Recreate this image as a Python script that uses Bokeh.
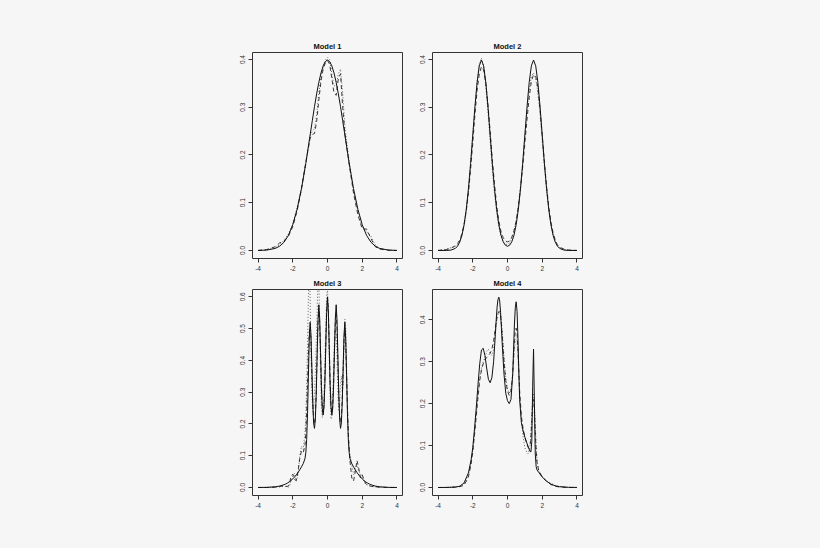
from bokeh.plotting import figure
from bokeh.models import Range1d, FixedTicker
from bokeh.layouts import column, row
from bokeh.embed import file_html
from bokeh.resources import INLINE

BG = "#f6f6f6"
INK = "#333333"
FONT = "Liberation Sans"

TITLES = ["Model 1", "Model 2", "Model 3", "Model 4"]
X_TICKS = [-4, -2, 0, 2, 4]
X_LABELS = ["-4", "-2", "0", "2", "4"]
Y_TICKS_A = [0.0, 0.1, 0.2, 0.3, 0.4]
Y_LABELS_A = ["0.0", "0.1", "0.2", "0.3", "0.4"]
Y_TICKS_C = [0.0, 0.1, 0.2, 0.3, 0.4, 0.5, 0.6]
Y_LABELS_C = ["0.0", "0.1", "0.2", "0.3", "0.4", "0.5", "0.6"]

# ---------------- Model 1 ----------------
x1 = [-4, -3.5, -3, -2.75, -2.5, -2.25, -2, -1.75, -1.5, -1.25, -1, -0.875, -0.75, -0.625,
      -0.5, -0.375, -0.25, -0.125, 0, 0.125, 0.25, 0.375, 0.5, 0.625, 0.75, 0.875, 1,
      1.25, 1.5, 1.75, 2, 2.25, 2.5, 2.75, 3, 3.5, 4]
true1 = [0.0001, 0.0009, 0.0044, 0.0091, 0.0175, 0.0317, 0.054, 0.0863, 0.1295, 0.1826, 0.242,
         0.2717, 0.3011, 0.3281, 0.3521, 0.3718, 0.3867, 0.3958, 0.3989, 0.3958, 0.3867, 0.3718,
         0.3521, 0.3281, 0.3011, 0.2717, 0.242, 0.1826, 0.1295, 0.0863, 0.054, 0.0317, 0.0175,
         0.0091, 0.0044, 0.0009, 0.0001]
dash1 = [0.0, 0.002, 0.008, 0.016, 0.02, 0.03, 0.05, 0.083, 0.128, 0.185, 0.235,
         0.243, 0.245, 0.27, 0.315, 0.355, 0.38, 0.393, 0.398, 0.39, 0.36, 0.33,
         0.325, 0.36, 0.37, 0.3, 0.245, 0.18, 0.12, 0.075, 0.045, 0.045, 0.025,
         0.008, 0.003, 0.0005, 0.0]
dot1 = [0.0, 0.001, 0.006, 0.012, 0.022, 0.035, 0.055, 0.09, 0.13, 0.18, 0.24,
        0.25, 0.255, 0.285, 0.33, 0.365, 0.385, 0.398, 0.405, 0.4, 0.37, 0.345,
        0.345, 0.37, 0.38, 0.33, 0.26, 0.185, 0.125, 0.08, 0.05, 0.04, 0.03,
        0.012, 0.004, 0.001, 0.0]

# ---------------- Model 2 ----------------
x2 = [-4, -3.5, -3.25, -3, -2.875, -2.75, -2.625, -2.5, -2.375, -2.25, -2.125, -2, -1.875,
      -1.75, -1.625, -1.5, -1.375, -1.25, -1.125, -1, -0.875, -0.75, -0.625, -0.5, -0.375,
      -0.25, -0.125, 0, 0.125, 0.25, 0.375, 0.5, 0.625, 0.75, 0.875, 1, 1.125, 1.25, 1.375,
      1.5, 1.625, 1.75, 1.875, 2, 2.125, 2.25, 2.375, 2.5, 2.625, 2.75, 2.875, 3, 3.25, 3.5, 4]
true2 = [0.0, 0.0001, 0.0009, 0.0044, 0.0091, 0.0175, 0.0317, 0.054, 0.0863, 0.1295, 0.1826,
         0.242, 0.3011, 0.3521, 0.3867, 0.3989, 0.3867, 0.3521, 0.3011, 0.242, 0.1826, 0.1295,
         0.0863, 0.0541, 0.032, 0.0184, 0.0111, 0.0088, 0.0111, 0.0184, 0.032, 0.0541, 0.0863,
         0.1295, 0.1826, 0.242, 0.3011, 0.3521, 0.3867, 0.3989, 0.3867, 0.3521, 0.3011, 0.242,
         0.1826, 0.1295, 0.0863, 0.054, 0.0317, 0.0175, 0.0091, 0.0044, 0.0009, 0.0001, 0.0]
dash2 = [0.0, 0.002, 0.005, 0.01, 0.015, 0.022, 0.035, 0.055, 0.083, 0.12, 0.17,
         0.225, 0.285, 0.335, 0.37, 0.385, 0.378, 0.35, 0.305, 0.25, 0.19, 0.14,
         0.095, 0.062, 0.04, 0.027, 0.02, 0.018, 0.02, 0.028, 0.042, 0.062, 0.092,
         0.13, 0.175, 0.225, 0.275, 0.32, 0.355, 0.368, 0.365, 0.34, 0.295, 0.24,
         0.185, 0.135, 0.092, 0.06, 0.037, 0.022, 0.012, 0.007, 0.003, 0.001, 0.0]
dot2 = [0.0, 0.003, 0.006, 0.008, 0.012, 0.02, 0.033, 0.052, 0.082, 0.125, 0.18,
        0.24, 0.3, 0.355, 0.392, 0.403, 0.385, 0.345, 0.29, 0.23, 0.17, 0.12,
        0.08, 0.05, 0.03, 0.018, 0.013, 0.013, 0.016, 0.025, 0.04, 0.062, 0.095,
        0.135, 0.185, 0.24, 0.29, 0.335, 0.365, 0.372, 0.36, 0.33, 0.285, 0.23,
        0.175, 0.128, 0.088, 0.057, 0.035, 0.02, 0.011, 0.006, 0.002, 0.001, 0.0]

# ---------------- Model 3 ----------------
x3 = [-4, -3.5, -3, -2.75, -2.5, -2.4, -2.3, -2.2, -2.1, -2.0, -1.9, -1.8, -1.7, -1.6, -1.5, -1.4,
      -1.3, -1.25, -1.2, -1.15, -1.1, -1.05, -1.0, -0.95, -0.9, -0.85, -0.8, -0.75, -0.7, -0.65,
      -0.6, -0.55, -0.5, -0.45, -0.4, -0.35, -0.3, -0.25, -0.2, -0.15, -0.1, -0.05, 0,
      0.05, 0.1, 0.15, 0.2, 0.25, 0.3, 0.35, 0.4, 0.45, 0.5, 0.55, 0.6, 0.65, 0.7, 0.75,
      0.8, 0.85, 0.9, 0.95, 1.0, 1.05, 1.1, 1.15, 1.2, 1.25, 1.3,
      1.4, 1.5, 1.6, 1.7, 1.8, 1.9, 2.0, 2.1, 2.2, 2.3, 2.4, 2.5, 2.75, 3, 3.5, 4]
true3 = [0.0001, 0.0004, 0.0022, 0.0045, 0.0088, 0.0112, 0.0142, 0.0178, 0.022, 0.027, 0.0328,
         0.0395, 0.047, 0.0555, 0.0648, 0.0749,
         0.090, 0.109, 0.151, 0.232, 0.351, 0.467, 0.520, 0.479, 0.375, 0.269, 0.203, 0.186,
         0.215, 0.292, 0.409, 0.523, 0.575, 0.532, 0.426, 0.318, 0.249, 0.228, 0.254, 0.328,
         0.441, 0.551, 0.598,
         0.551, 0.441, 0.328, 0.254, 0.228, 0.249, 0.318, 0.426, 0.532, 0.575, 0.523, 0.409,
         0.292, 0.215, 0.186, 0.203, 0.269, 0.375, 0.479, 0.520, 0.467, 0.351, 0.232, 0.151,
         0.109, 0.090,
         0.0749, 0.0648, 0.0555, 0.047, 0.0395, 0.0328, 0.027, 0.022, 0.0178, 0.0142, 0.0112,
         0.0088, 0.0045, 0.0022, 0.0004, 0.0001]
dash3 = [0.0, 0.0, 0.001, 0.003, 0.006, 0.004, 0.003, 0.01, 0.035, 0.042, 0.025, 0.022, 0.05,
         0.09, 0.115, 0.11,
         0.13, 0.17, 0.24, 0.33, 0.42, 0.49, 0.505, 0.46, 0.36, 0.27, 0.215, 0.2, 0.225, 0.3,
         0.41, 0.51, 0.555, 0.52, 0.42, 0.32, 0.255, 0.235, 0.26, 0.34, 0.45, 0.55, 0.6,
         0.56, 0.45, 0.335, 0.26, 0.235, 0.255, 0.33, 0.43, 0.52, 0.55, 0.5, 0.39, 0.29, 0.23,
         0.205, 0.22, 0.28, 0.37, 0.46, 0.5, 0.45, 0.35, 0.25, 0.17, 0.12, 0.08,
         0.03, 0.02, 0.05, 0.085, 0.06, 0.03, 0.04, 0.025, 0.012, 0.008, 0.006, 0.004, 0.002,
         0.001, 0.0, 0.0]
dot3 = [0.0, 0.0, 0.001, 0.002, 0.004, 0.003, 0.001, 0.002, 0.02, 0.035, 0.045, 0.02, 0.04,
        0.1, 0.13, 0.12,
        0.17, 0.22, 0.32, 0.45, 0.6, 0.68, 0.6, 0.42, 0.3, 0.24, 0.25, 0.3, 0.36, 0.45,
        0.55, 0.65, 0.66, 0.5, 0.35, 0.25, 0.22, 0.24, 0.3, 0.4, 0.5, 0.6, 0.63,
        0.55, 0.4, 0.28, 0.215, 0.22, 0.28, 0.38, 0.47, 0.5, 0.48, 0.4, 0.3, 0.24, 0.26,
        0.33, 0.35, 0.3, 0.33, 0.45, 0.53, 0.5, 0.38, 0.26, 0.16, 0.12, 0.1,
        0.07, 0.04, 0.06, 0.07, 0.05, 0.045, 0.03, 0.02, 0.01, 0.008, 0.005, 0.004, 0.002,
        0.001, 0.0, 0.0]

# ---------------- Model 4 ----------------
x4 = [-4, -3.5, -3, -2.75, -2.5, -2.25, -2.1, -2.0, -1.9, -1.8, -1.7, -1.6, -1.5, -1.4, -1.3,
      -1.2, -1.1, -1.0, -0.9, -0.8, -0.7, -0.65, -0.6, -0.55, -0.5, -0.45, -0.4, -0.35, -0.3,
      -0.2, -0.1, 0.0, 0.1, 0.2, 0.3, 0.35, 0.4, 0.45, 0.5, 0.55, 0.6, 0.65, 0.7, 0.8, 0.9,
      1.0, 1.1, 1.2, 1.3, 1.35, 1.4, 1.45, 1.5, 1.55, 1.6, 1.65, 1.7, 1.8, 2.0, 2.25, 2.5,
      2.75, 3.0, 3.5, 4.0]
true4 = [0.0, 0.0002, 0.001, 0.003, 0.011, 0.035, 0.065, 0.095, 0.14, 0.19, 0.245, 0.295, 0.328,
         0.332, 0.315, 0.285, 0.258, 0.25, 0.262, 0.3, 0.365, 0.4, 0.43, 0.448, 0.454, 0.445,
         0.418, 0.38, 0.34, 0.27, 0.225, 0.207, 0.2, 0.21, 0.27, 0.33, 0.39, 0.43, 0.443, 0.42,
         0.36, 0.28, 0.21, 0.155, 0.135, 0.12, 0.108, 0.096, 0.086, 0.085, 0.11, 0.24, 0.33,
         0.2, 0.08, 0.05, 0.042, 0.036, 0.025, 0.015, 0.008, 0.004, 0.002, 0.0005, 0.0001]
dash4 = [0.0, 0.0, 0.001, 0.002, 0.005, 0.025, 0.055, 0.085, 0.125, 0.17, 0.215, 0.255, 0.28,
         0.295, 0.305, 0.31, 0.315, 0.32, 0.33, 0.35, 0.38, 0.395, 0.405, 0.415, 0.42, 0.418,
         0.41, 0.39, 0.36, 0.3, 0.255, 0.23, 0.22, 0.23, 0.27, 0.31, 0.35, 0.375, 0.38, 0.37,
         0.33, 0.28, 0.23, 0.17, 0.14, 0.12, 0.105, 0.095, 0.1, 0.12, 0.16, 0.2, 0.21, 0.18,
         0.13, 0.09, 0.06, 0.04, 0.025, 0.015, 0.007, 0.003, 0.001, 0.0, 0.0]
dot4 = [0.0, 0.0, 0.001, 0.003, 0.008, 0.03, 0.06, 0.09, 0.13, 0.175, 0.22, 0.26, 0.285, 0.3,
        0.31, 0.325, 0.33, 0.32, 0.315, 0.33, 0.37, 0.39, 0.405, 0.413, 0.418, 0.42, 0.412,
        0.395, 0.37, 0.31, 0.26, 0.235, 0.225, 0.235, 0.27, 0.3, 0.33, 0.35, 0.355, 0.35,
        0.32, 0.27, 0.22, 0.16, 0.12, 0.095, 0.085, 0.08, 0.1, 0.13, 0.17, 0.21, 0.225, 0.2,
        0.15, 0.1, 0.065, 0.04, 0.025, 0.016, 0.01, 0.005, 0.002, 0.0, 0.0]

for xs, a, b, c in [(x1, true1, dash1, dot1), (x2, true2, dash2, dot2),
                    (x3, true3, dash3, dot3), (x4, true4, dash4, dot4)]:
    assert len(xs) == len(a) == len(b) == len(c), (len(xs), len(a), len(b), len(c))


def panel(title, xs, yt, yd, yo, yr, yticks, ylabels, borders):
    l, r, t, b = borders
    p = figure(frame_width=150, frame_height=206,
               x_range=Range1d(-4.32, 4.32), y_range=Range1d(*yr),
               output_backend="svg", toolbar_location=None, title=title,
               min_border_left=l, min_border_right=r, min_border_top=t, min_border_bottom=b,
               background_fill_color=BG, border_fill_color=BG)
    p.title.align = "center"
    p.title.text_font = FONT
    p.title.text_font_size = "7.5px"
    p.title.text_font_style = "bold"
    p.title.text_color = "#111111"
    p.title.standoff = 4
    p.grid.visible = False
    p.outline_line_color = INK
    p.outline_line_width = 1
    for ax in p.axis:
        ax.axis_line_color = None
        ax.major_tick_out = 4
        ax.major_tick_in = 0
        ax.minor_tick_line_color = None
        ax.major_tick_line_color = INK
        ax.major_label_text_font = FONT
        ax.major_label_text_font_size = "6.5px"
        ax.major_label_text_color = INK
        ax.major_label_standoff = 3
    p.xaxis.ticker = FixedTicker(ticks=X_TICKS)
    p.xaxis.major_label_overrides = {t_: s for t_, s in zip(X_TICKS, X_LABELS)}
    p.yaxis.ticker = FixedTicker(ticks=yticks)
    p.yaxis.major_label_overrides = {t_: s for t_, s in zip(yticks, ylabels)}
    p.yaxis.major_label_orientation = "vertical"
    p.line(xs, yo, line_color="#666666", line_width=1.0, line_dash="1 2")
    p.line(xs, yd, line_color="#222222", line_width=0.9, line_dash="4 3")
    p.line(xs, yt, line_color="#111111", line_width=1.0)
    return p


p1 = panel(TITLES[0], x1, true1, dash1, dot1, (-0.0168, 0.4147), Y_TICKS_A, Y_LABELS_A, (252, 5, 52, 16))
p2 = panel(TITLES[1], x2, true2, dash2, dot2, (-0.0168, 0.4147), Y_TICKS_A, Y_LABELS_A, (25, 222, 52, 16))
p3 = panel(TITLES[2], x3, true3, dash3, dot3, (-0.0252, 0.623), Y_TICKS_C, Y_LABELS_C, (252, 5, 14, 30))
p4 = panel(TITLES[3], x4, true4, dash4, dot4, (-0.0191, 0.4723), Y_TICKS_A, Y_LABELS_A, (25, 222, 14, 30))

layout = column(row(p1, p2), row(p3, p4))

html = file_html(layout, INLINE)
i = html.rfind("<body>")
if i >= 0:
    html = html[:i] + '<body style="background-color:%s;">' % BG + html[i + 6:]
open("out.html", "w").write(html)
